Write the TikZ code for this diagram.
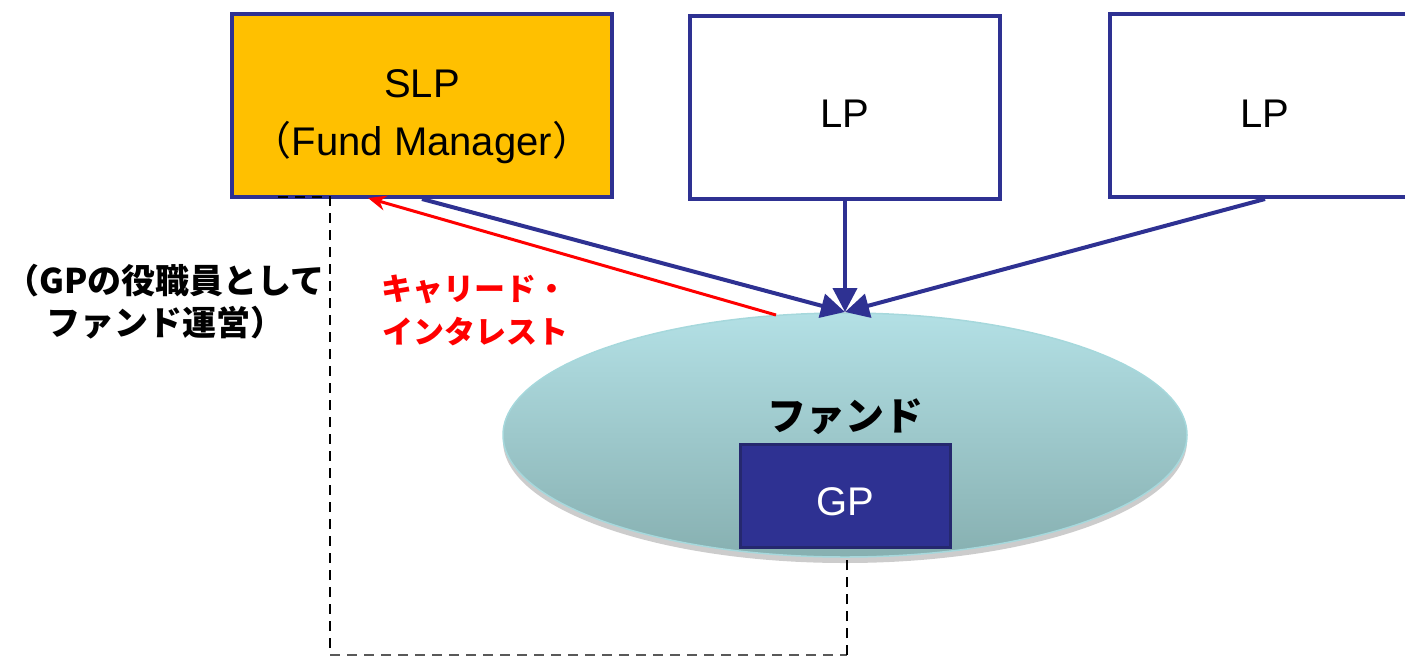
\documentclass[tikz,border=0pt]{standalone}
\usepackage{fontspec}
\setmainfont{Liberation Sans}
\newfontfamily\cjk{Noto Sans CJK JP}
\newfontfamily\cjkblack{Noto Sans CJK JP Black}
\usetikzlibrary{arrows.meta,shapes.geometric,shadows}
\definecolor{navy}{HTML}{2E3192}
\definecolor{navydark}{HTML}{25286E}
\definecolor{slporange}{HTML}{FFC000}
\definecolor{fundtop}{HTML}{B3E0E5}
\definecolor{fundbot}{HTML}{87B0B1}
\definecolor{fundedge}{HTML}{A6D8DC}
\definecolor{cred}{HTML}{FF0000}
\tikzset{
  partybox/.style={draw=navy, line width=4pt, rectangle, inner sep=0pt},
  bigtext/.style={anchor=base, font=\fontsize{40}{48}\selectfont, inner sep=0pt},
  flow/.style={draw=navy, line width=4pt, -{Triangle[length=24pt,width=24pt]}},
  carry/.style={draw=cred, line width=3pt, -{Stealth[length=18pt,width=15pt]}},
  dashline/.style={line width=2.3pt, dash pattern=on 10pt off 7pt},
  cjkbold/.style={anchor=base, inner sep=0pt, font=\cjk\bfseries\fontsize{34}{40}\selectfont},
}
\begin{document}
\begin{tikzpicture}[x=1pt,y=-1pt]
\useasboundingbox (0,0) rectangle (1405,657);
\clip (0,0) rectangle (1405,657);
% fund ellipse
\node[ellipse, minimum width=684pt, minimum height=244pt, inner sep=0pt,
      top color=fundtop, bottom color=fundbot, draw=fundedge, line width=1.5pt,
      drop shadow={opacity=0.4, shadow xshift=0pt, shadow yshift=-6pt}] (fund) at (845,435) {};
\node[anchor=base, inner sep=0pt, font=\cjkblack\fontsize{39}{44}\selectfont] (fundlbl) at (845,430) {ファンド};
% GP box
\node[rectangle, fill=navy, draw=navydark, line width=3pt, minimum width=210pt, minimum height=103pt, inner sep=0pt] (gp) at (845,495.5) {};
\node[bigtext, text=white] (gplbl) at (845,515) {GP};
% top boxes
\node[partybox, fill=slporange, minimum width=380pt, minimum height=183pt] (slp) at (422,105.5) {};
\node[bigtext] (slpA) at (422,97) {SLP};
\node[bigtext] (slpB) at (422,155) {{\cjk （}Fund Manager{\cjk ）}};
\node[partybox, fill=white, minimum width=310pt, minimum height=183pt] (lp1) at (845,107.5) {};
\node[bigtext] (lp1lbl) at (845,127) {LP};
\node[partybox, fill=white, minimum width=310pt, minimum height=183pt] (lp2) at (1265,105.5) {};
\node[bigtext] (lp2lbl) at (1265,127) {LP};
% dashed frame
\coordinate (dtl) at (278,197);
\coordinate (dtr) at (330,197);
\coordinate (dbl) at (330,655);
\coordinate (dbr) at (847,655);
\coordinate (dend) at (847,558);
\draw[dashline] (dtl) -- (dtr) -- (dbl);
\draw[dashline, draw=black!65] (dbl) -- (dbr);
\draw[dashline] (dbr) -- (dend);
% arrows
\coordinate (tip) at (845,312);
\draw[flow] (slp.south) -- (tip);
\draw[flow] (lp1.south) -- (tip);
\draw[flow] (lp2.south) -- (tip);
\coordinate (cistart) at (776,315);
\coordinate (ciend) at (368,198);
\draw[carry] (cistart) -- (ciend);
% labels
\node[cjkbold] (gpA) at (165,293) {（GPの役職員として};
\node[cjkbold] (gpB) at (165,335) {ファンド運営）};
\node[cjkbold, text=cred, font=\cjk\bfseries\fontsize{31}{36}\selectfont] (ciA) at (474,300) {キャリード・};
\node[cjkbold, text=cred, font=\cjk\bfseries\fontsize{31}{36}\selectfont] (ciB) at (475,343) {インタレスト};
\end{tikzpicture}
\end{document}
